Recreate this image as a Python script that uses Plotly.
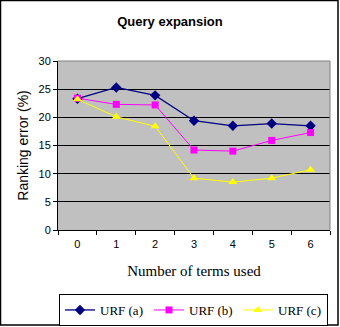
import plotly.graph_objects as go

terms = ["0", "1", "2", "3", "4", "5", "6"]
urf_a = [23.3, 25.3, 23.9, 19.4, 18.5, 18.9, 18.5]
urf_b = [23.4, 22.3, 22.2, 14.2, 14.0, 15.9, 17.3]
urf_c = [23.2, 20.1, 18.4, 9.2, 8.5, 9.2, 10.7]
y_ticks = [0, 5, 10, 15, 20, 25, 30]

W, H = 340, 327
L, R, T, B = 58, 10, 61, 97
pw, ph = W - L - R, H - T - B

def px_x(p):
    return (p - L) / pw

def px_y(p):
    return (H - B - p) / ph

fig = go.Figure()
fig.add_trace(go.Scatter(x=terms, y=urf_a, name="URF (a)", mode="lines+markers",
                         line=dict(color="#000080", width=1.3),
                         marker=dict(symbol="diamond", size=8, color="#000080")))
fig.add_trace(go.Scatter(x=terms, y=urf_b, name="URF (b)", mode="lines+markers",
                         line=dict(color="#FF00FF", width=1),
                         marker=dict(symbol="square", size=7, color="#FF00FF")))
fig.add_trace(go.Scatter(x=terms, y=urf_c, name="URF (c)", mode="lines+markers",
                         line=dict(color="#FFFF00", width=1),
                         marker=dict(symbol="triangle-up", size=8, color="#FFFF00")))

fig.update_layout(
    width=W, height=H,
    margin=dict(l=L, r=R, t=T, b=B, autoexpand=False),
    paper_bgcolor="white",
    plot_bgcolor="#C0C0C0",
    title=dict(text="<b>Query expansion</b>", x=170 / W, xanchor="center", xref="container",
               y=1 - 21 / H, yanchor="middle", yref="container",
               font=dict(family="Arial, Liberation Sans", size=13, color="black")),
    xaxis=dict(type="category", categoryorder="array", categoryarray=terms,
               range=[-0.5, 6.5], tickson="boundaries", ticks="outside", ticklen=4,
               tickcolor="black", showline=True, linecolor="black", linewidth=1,
               ticklabelstandoff=4,
               showgrid=False, tickfont=dict(family="Arial, Liberation Sans", size=11, color="black"),
               title=dict(text="Number of terms used", standoff=16,
                          font=dict(family="Times New Roman, Liberation Serif", size=15, color="black"))),
    yaxis=dict(range=[0, 30], tickvals=y_ticks, ticks="outside", ticklen=4, tickcolor="black",
               showline=True, linecolor="black", linewidth=1,
               showgrid=True, gridcolor="black", gridwidth=1, zeroline=False,
               tickfont=dict(family="Arial, Liberation Sans", size=11, color="black"),
               title=dict(text="Ranking error (%)", standoff=6,
                          font=dict(family="Arial, Liberation Sans", size=14, color="black"))),
    legend=dict(orientation="h", x=px_x(59), xanchor="left", y=px_y(294), yanchor="top",
                bordercolor="black", borderwidth=1, bgcolor="white",
                entrywidth=44, entrywidthmode="pixels", tracegroupgap=0, itemwidth=30,
                font=dict(family="Times New Roman, Liberation Serif", size=13, color="black")),
    showlegend=True,
    shapes=[
        dict(type="line", xref="paper", yref="paper", x0=0, x1=1, y0=1, y1=1,
             line=dict(color="#808080", width=1), layer="above"),
        dict(type="line", xref="paper", yref="paper", x0=1, x1=1, y0=0, y1=1,
             line=dict(color="#808080", width=1), layer="above"),
        dict(type="rect", xref="paper", yref="paper",
             x0=px_x(0.5), x1=px_x(338), y0=px_y(0.5), y1=px_y(325),
             line=dict(color="black", width=1.5), layer="above"),
    ],
)

fig.write_html("out.html")
